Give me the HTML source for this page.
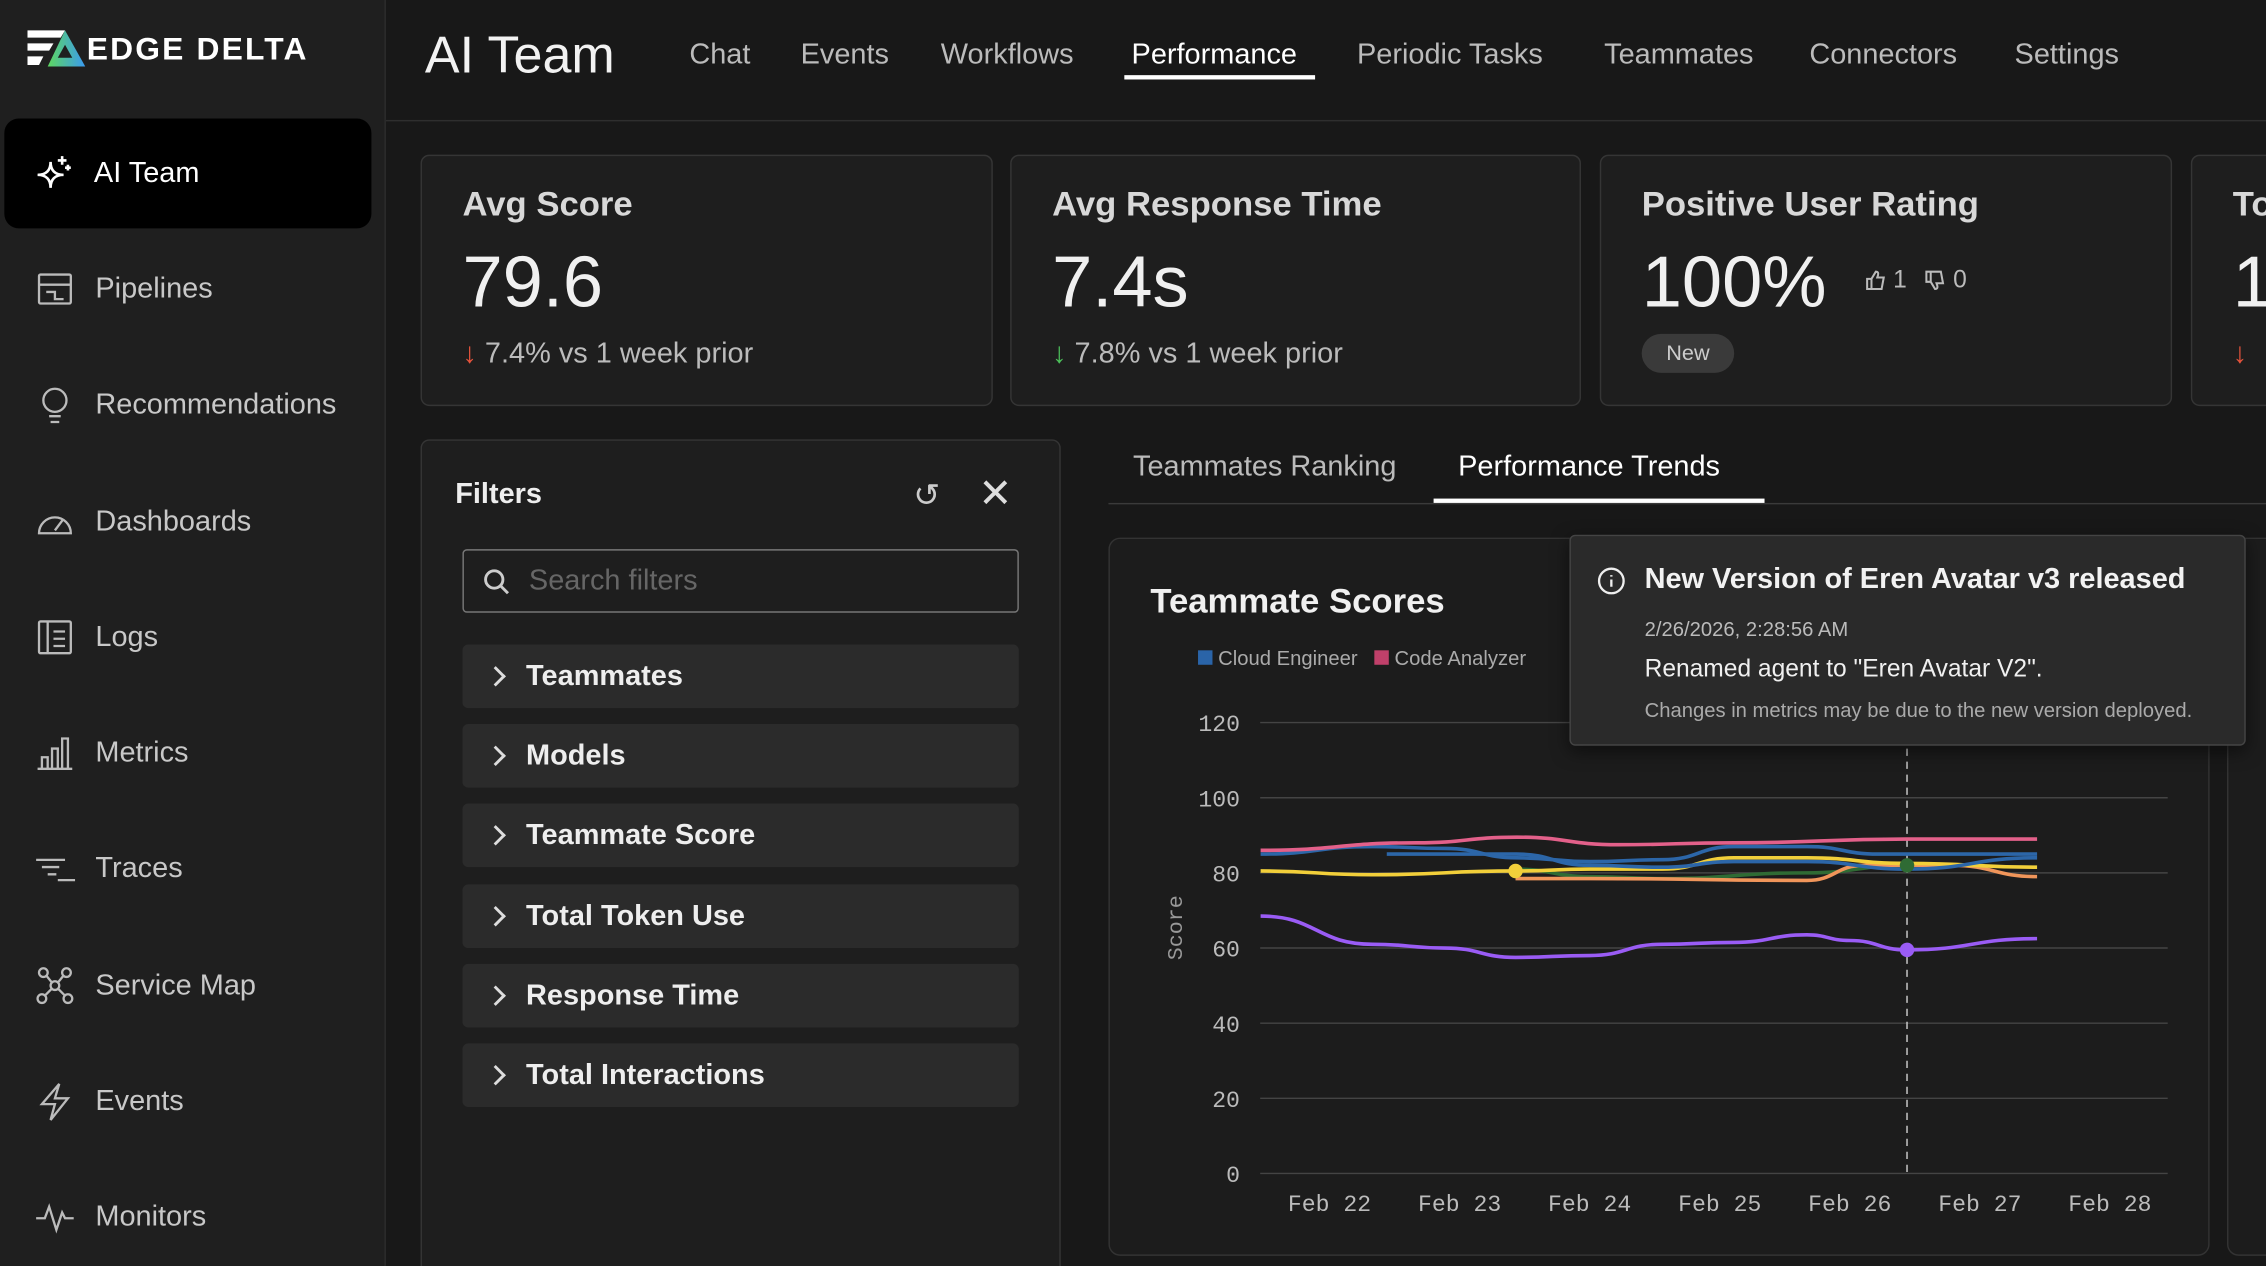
<!DOCTYPE html>
<html><head><meta charset="utf-8">
<style>
*{box-sizing:border-box;margin:0;padding:0}
html,body{width:2266px;height:1266px;overflow:hidden;background:#181818}
#root{position:absolute;left:0;top:0;width:1568px;height:876px;transform:scale(1.44515);transform-origin:0 0;font-family:"Liberation Sans",sans-serif;color:#ddd;background:#181818;overflow:hidden}
.abs{position:absolute}
#sidebar{left:0;top:0;width:267px;height:876px;background:#1f1f1f;border-right:1px solid #2c2c2c}
.sitem{position:absolute;left:24px;font-size:20px;color:#c8c8c8;display:flex;align-items:center;gap:14px}
.sitem svg{width:28px;height:28px}
.nav{position:absolute;top:27px;font-size:20px;color:#bbb}
.card{position:absolute;top:107px;height:174px;background:#1e1e1e;border:1px solid #353535;border-radius:6px;overflow:hidden}
.card .t{position:absolute;left:28px;top:20px;font-size:24px;font-weight:bold;color:#d8d8d8}
.card .v{position:absolute;left:28px;top:58px;font-size:50px;color:#f0f0f0}
.card .c{position:absolute;left:28px;top:126px;font-size:20px;color:#bbb}
.fitem{position:absolute;left:28px;width:385px;height:44px;background:#2b2b2b;border-radius:4px;font-size:20px;font-weight:bold;color:#eee;padding-left:44px;line-height:44px}
.fitem:before{content:"";position:absolute;left:18px;top:17px;width:8px;height:8px;border-right:2px solid #ddd;border-top:2px solid #ddd;transform:rotate(45deg)}
</style></head><body>
<div id="root">
<div id="sidebar" class="abs">
  <div class="abs" style="left:19px;top:20px;display:flex;align-items:center">
    <svg width="40" height="27" viewBox="0 0 40 27"><path d="M0 1h26l-3 5H0zM0 10h18l-3 5H0zM0 19h11l-3 6H0z" fill="#fff"/><defs><linearGradient id="lg" x1="0" x2="1"><stop offset="0" stop-color="#5dd65f"/><stop offset="1" stop-color="#3b9bf0"/></linearGradient></defs><path d="M26 1L40 26H14z" fill="url(#lg)"/><path d="M26 11L31 20H21z" fill="#1f1f1f"/></svg>
    <span style="font-size:22px;font-weight:bold;letter-spacing:1.5px;color:#fff;margin-left:1px">EDGE DELTA</span>
  </div>
  <div class="abs" style="left:3px;top:82px;width:254px;height:76px;background:#000;border-radius:10px">
    <div class="sitem" style="left:20px;top:24px;color:#fff"><svg viewBox="0 0 28 28" fill="none" stroke="#fff" stroke-width="1.8"><path d="M12 6C12 12 9 15 3 15C9 15 12 18 12 24C12 18 15 15 21 15C15 15 12 12 12 6z"/><path d="M20 2v6M17 5h6M24 8v4M22 10h4"/></svg>AI Team</div>
  </div>
  <div class="sitem" style="top:186px"><svg viewBox="0 0 28 28" fill="none" stroke="#bbb" stroke-width="1.6"><rect x="3" y="4" width="22" height="20" rx="1"/><path d="M3 11h22M8 16h6v5h6"/></svg>Pipelines</div>
  <div class="sitem" style="top:266px"><svg viewBox="0 0 28 28" fill="none" stroke="#bbb" stroke-width="1.6"><circle cx="14" cy="11" r="8"/><path d="M10 22h8M11 26h6"/></svg>Recommendations</div>
  <div class="sitem" style="top:347px"><svg viewBox="0 0 28 28" fill="none" stroke="#bbb" stroke-width="1.6"><path d="M3 22a11 11 0 0 1 22 0zM14 20l6-8"/></svg>Dashboards</div>
  <div class="sitem" style="top:427px"><svg viewBox="0 0 28 28" fill="none" stroke="#bbb" stroke-width="1.6"><rect x="3" y="3" width="22" height="22" rx="1"/><path d="M9 3v22M13 10h8M13 15h8M13 20h8"/></svg>Logs</div>
  <div class="sitem" style="top:507px"><svg viewBox="0 0 28 28" fill="none" stroke="#bbb" stroke-width="1.6"><path d="M2 25h24M5 25v-8h4v8M12 25V11h4v14M19 25V4h4v21"/></svg>Metrics</div>
  <div class="sitem" style="top:587px"><svg viewBox="0 0 28 28" fill="none" stroke="#bbb" stroke-width="1.6"><path d="M1 8h20M5 13h12M9 18h6M16 22h12"/></svg>Traces</div>
  <div class="sitem" style="top:668px"><svg viewBox="0 0 28 28" fill="none" stroke="#bbb" stroke-width="1.6"><circle cx="6" cy="5" r="3"/><circle cx="22" cy="5" r="3"/><circle cx="14" cy="14" r="3"/><circle cx="5" cy="23" r="3"/><circle cx="23" cy="23" r="3"/><path d="M8 7l4 5M20 7l-4 5M12 16l-5 5M16 16l5 5"/></svg>Service Map</div>
  <div class="sitem" style="top:748px"><svg viewBox="0 0 28 28" fill="none" stroke="#bbb" stroke-width="1.6"><path d="M17 2L5 16h9l-3 11 12-15h-9z"/></svg>Events</div>
  <div class="sitem" style="top:828px"><svg viewBox="0 0 28 28" fill="none" stroke="#bbb" stroke-width="1.6"><path d="M1 15h6l3-8 5 16 4-12 2 4h6"/></svg>Monitors</div>
</div>

<div class="abs" style="left:267px;top:83px;width:1301px;height:1px;background:#2e2e2e"></div>
<div class="abs" style="left:294px;top:17px;font-size:36px;color:#f2f2f2">AI Team</div>
<div class="nav" style="left:477px">Chat</div>
<div class="nav" style="left:554px">Events</div>
<div class="nav" style="left:651px">Workflows</div>
<div class="nav" style="left:783px;color:#fff">Performance</div>
<div class="abs" style="left:778px;top:52px;width:132px;height:3px;background:#fff"></div>
<div class="nav" style="left:939px">Periodic Tasks</div>
<div class="nav" style="left:1110px">Teammates</div>
<div class="nav" style="left:1252px">Connectors</div>
<div class="nav" style="left:1394px">Settings</div>

<div class="card" style="left:291px;width:396px"><div class="t">Avg Score</div><div class="v">79.6</div><div class="c"><span style="color:#e5533c">↓</span> 7.4% vs 1 week prior</div></div>
<div class="card" style="left:699px;width:395px"><div class="t">Avg Response Time</div><div class="v">7.4s</div><div class="c"><span style="color:#4cc05a">↓</span> 7.8% vs 1 week prior</div></div>
<div class="card" style="left:1107px;width:396px"><div class="t">Positive User Rating</div><div class="v">100%</div>
  <div class="abs" style="left:182px;top:76px;font-size:17px;color:#bbb;display:flex;align-items:center;gap:4px">
    <svg width="16" height="16" viewBox="0 0 16 16" fill="none" stroke="#bbb" stroke-width="1.4"><path d="M2 7h3v7H2zM5 7l3-5c1.5 0 2 1 1.5 2.5L9 6h4.5l-1.5 8H5"/></svg>1
    <svg style="margin-left:8px" width="16" height="16" viewBox="0 0 16 16" fill="none" stroke="#bbb" stroke-width="1.4"><path d="M2 2h3v7H2zM5 9l3 5c1.5 0 2-1 1.5-2.5L9 10h4.5L12 2H5"/></svg>0</div>
  <div class="abs" style="left:28px;top:123px;width:64px;height:27px;border-radius:14px;background:#3a3a3a;font-size:15px;color:#ccc;text-align:center;line-height:27px">New</div></div>
<div class="card" style="left:1516px;width:80px"><div class="t">To</div><div class="v">1</div><div class="c"><span style="color:#e5533c">↓</span></div></div>

<div class="abs" style="left:291px;top:304px;width:443px;height:600px;background:#1e1e1e;border:1px solid #353535;border-radius:6px">
  <div class="abs" style="left:23px;top:26px;font-size:20px;font-weight:bold;color:#eee">Filters</div>
  <div class="abs" style="left:340px;top:25px;font-size:22px;color:#ccc">↺</div>
  <div class="abs" style="left:385px;top:20px;font-size:28px;color:#ddd">✕</div>
  <div class="abs" style="left:28px;top:75px;width:385px;height:44px;border:1px solid #777;border-radius:3px;font-size:20px;color:#666;padding:10px 0 0 45px">Search filters
    <svg class="abs" style="left:13px;top:12px" width="20" height="20" viewBox="0 0 20 20" fill="none" stroke="#ccc" stroke-width="2"><circle cx="8" cy="8" r="6"/><path d="M12.5 12.5l5 5"/></svg></div>
  <div class="fitem" style="top:141px">Teammates</div>
  <div class="fitem" style="top:196px">Models</div>
  <div class="fitem" style="top:251px">Teammate Score</div>
  <div class="fitem" style="top:307px">Total Token Use</div>
  <div class="fitem" style="top:362px">Response Time</div>
  <div class="fitem" style="top:417px">Total Interactions</div>
</div>

<div class="abs" style="left:767px;top:348px;width:801px;height:1px;background:#3a3a3a"></div>
<div class="abs" style="left:784px;top:312px;font-size:20px;color:#bbb">Teammates Ranking</div>
<div class="abs" style="left:1009px;top:312px;font-size:20px;color:#fff">Performance Trends</div>
<div class="abs" style="left:992px;top:345px;width:229px;height:3px;background:#fff"></div>

<div class="abs" style="left:767px;top:372px;width:762px;height:497px;background:#1c1c1c;border:1px solid #333;border-radius:8px"></div>
<div class="abs" style="left:1541px;top:372px;width:60px;height:497px;background:#1c1c1c;border:1px solid #333;border-radius:8px"></div>
<div class="abs" style="left:796px;top:403px;font-size:24px;font-weight:bold;color:#f0f0f0">Teammate Scores</div>
<div class="abs" style="left:829px;top:447px;font-size:14px;color:#aaa">
  <span><span style="display:inline-block;width:10px;height:10px;background:#2a64a8"></span> Cloud Engineer</span>&nbsp;&nbsp;
  <span><span style="display:inline-block;width:10px;height:10px;background:#c0406a"></span> Code Analyzer</span></div>

<svg id="chart" class="abs" style="left:0;top:0" width="1568" height="876"></svg>

<div class="abs" style="left:1086px;top:370px;width:468px;height:146px;background:#2a2a2a;border:1px solid #444;border-radius:4px;box-shadow:0 4px 12px rgba(0,0,0,.5)">
  <svg class="abs" style="left:18px;top:21px" width="20" height="20" viewBox="0 0 20 20" fill="none" stroke="#eee" stroke-width="1.6"><circle cx="10" cy="10" r="8.5"/><path d="M10 9v5M10 6v1"/></svg>
  <div class="abs" style="left:51px;top:19px;font-size:20px;font-weight:bold;color:#f2f2f2">New Version of Eren Avatar v3 released</div>
  <div class="abs" style="left:51px;top:56px;font-size:14px;color:#bbb">2/26/2026, 2:28:56 AM</div>
  <div class="abs" style="left:51px;top:82px;font-size:17px;color:#f0f0f0">Renamed agent to "Eren Avatar V2".</div>
  <div class="abs" style="left:51px;top:112px;font-size:14px;color:#aaa">Changes in metrics may be due to the new version deployed.</div>
</div>
</div>
<script>
const yTicks=[0,20,40,60,80,100,120];
const xLabels=["Feb 22","Feb 23","Feb 24","Feb 25","Feb 26","Feb 27","Feb 28"];
const pinkX=[-0.53,0.67,1.44,2.22,3.11,4.44,5.44];
const pinkY=[86,88,89.5,87.5,88,89,89];
const blue1X=[-0.53,0.33,0.89,1.44,2.0,2.56,3.11,3.67,4.22,5.44];
const blue1Y=[85,87,86.5,84,83,83.5,87,87,85,85];
const blue2X=[0.44,1.44,2.0,2.56,3.11,3.67,4.44,5.44];
const blue2Y=[85,85,82,81.5,83,83,81,84];
const yellowX=[-0.53,0.33,1.43,2.0,2.56,3.11,3.67,4.44,5.44];
const yellowY=[80.5,79.5,80.5,81,81,84,84,82.5,81.5];
const greenX=[1.43,2.0,2.56,3.67,4.44];
const greenY=[81,79,78.5,80,82];
const orangeX=[1.43,2.0,3.67,4.11,4.78,5.44];
const orangeY=[78.5,78.5,78,82,82,79];
const purpleX=[-0.53,0.33,0.89,1.43,2.0,2.56,3.11,3.67,4.0,4.44,5.44];
const purpleY=[68.5,61,60,57.5,58,61,61.5,63.5,62,59.5,62.5];
const markerX=4.44;
const yellowMarker=[1.43,80.5];
const markerPoints=[[4.44,82],[4.44,59.5]];
const X=d=>920+d*90, Y=v=>812-v*2.6;
const NS="http://www.w3.org/2000/svg", svg=document.getElementById('chart');
function mk(t,a){const e=document.createElementNS(NS,t);for(const k in a)e.setAttribute(k,a[k]);svg.appendChild(e);return e;}
yTicks.forEach(v=>{
  const l=mk('line',{x1:872,x2:1500,y1:Y(v),y2:Y(v),stroke:'#444','stroke-width':1});
  
  
  const t=mk('text',{x:858,y:Y(v)+6,'text-anchor':'end','font-size':16,fill:'#bbb','font-family':'Liberation Mono,monospace'});t.textContent=v;
  
  
});
xLabels.forEach((s,i)=>{
  const t=mk('text',{x:X(i),y:838,'text-anchor':'middle','font-size':16,fill:'#bbb','font-family':'Liberation Mono,monospace'});t.textContent=s;
  
  
});
const yt=mk('text',{x:818,y:642,'text-anchor':'middle','font-size':15,fill:'#999','font-family':'Liberation Mono,monospace',transform:'rotate(-90 818 642)'});yt.textContent='Score';


const vl=mk('line',{x1:X(markerX),x2:X(markerX),y1:500,y2:812,stroke:'#ccc','stroke-dasharray':'5,4','stroke-width':1});


function path(xs,ys){const p=xs.map((x,i)=>[X(x),Y(ys[i])]);let d=`M${p[0][0]},${p[0][1]}`;
  for(let i=1;i<p.length;i++){const a=p[i-1],b=p[i],m=(b[0]-a[0])/2;d+=` C${a[0]+m},${a[1]} ${b[0]-m},${b[1]} ${b[0]},${b[1]}`;}return d;}
[[greenX,greenY,'#2f6b34','series-green'],[orangeX,orangeY,'#f0955a','series-orange'],[yellowX,yellowY,'#f2cf3a','series-yellow'],[blue2X,blue2Y,'#2c66a8','series-blue-2'],[blue1X,blue1Y,'#2c66a8','series-cloud-engineer'],[pinkX,pinkY,'#e3608a','series-code-analyzer'],[purpleX,purpleY,'#9a5cf5','series-purple']].forEach(s=>{
  const e=mk('path',{d:path(s[0],s[1]),fill:'none',stroke:s[2],'stroke-width':2.5});
  
  
});
const c1=mk('circle',{cx:X(yellowMarker[0]),cy:Y(yellowMarker[1]),r:5,fill:'#f2cf3a'});


[['#2f6b34'],['#9a5cf5']].forEach((c,i)=>{
  const e=mk('circle',{cx:X(markerPoints[i][0]),cy:Y(markerPoints[i][1]),r:5,fill:c[0]});
  
  
});
</script>
</body></html>
